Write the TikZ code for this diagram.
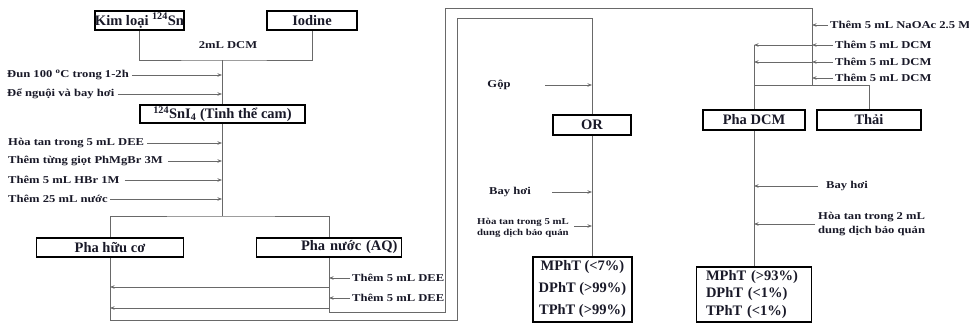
\documentclass[tikz,border=0pt]{standalone}
\usepackage{fontspec}
\setmainfont{Liberation Serif}
\newfontfamily\lblfont{Liberation Serif}[FakeStretch=1.2]
\usetikzlibrary{arrows.meta}
\definecolor{ink}{RGB}{25,25,40}
\definecolor{wirec}{RGB}{105,105,105}
\begin{document}
\begin{tikzpicture}[x=1pt,y=-1pt,
  box/.style={draw=black,line width=1.7pt,inner sep=0pt,text=ink,
    font=\fontsize{14.5}{16}\selectfont\bfseries},
  lbl/.style={inner sep=0pt,text=ink,font=\lblfont\fontsize{10.5}{14}\selectfont\bfseries},
  slbl/.style={inner sep=0pt,text=ink,font=\lblfont\fontsize{9}{11.5}\selectfont\bfseries},
  wire/.style={draw=wirec,line width=0.9pt},
  arr/.style={wire,-{Stealth[length=4.5pt,width=3.5pt]}}]
\useasboundingbox (0,0) rectangle (969,324);

% ---------- boxes ----------
\node[box,minimum width=87pt,minimum height=19pt] (sn) at (139.5,20.5) {Kim loại \textsuperscript{124}Sn};
\node[box,minimum width=90pt,minimum height=19pt] (iod) at (312,20.5) {Iodine};
\node[box,minimum width=165pt,minimum height=18pt] (sni4) at (222.5,114) {\textsuperscript{124}SnI\textsubscript{4} (Tinh thể cam)};
\node[box,minimum width=147pt,minimum height=19pt] (org) at (110,247.5) {Pha hữu cơ};
\node[box,minimum width=145pt,minimum height=19pt,text width=137pt,align=right] (aq) at (329,247.5) {Pha nước (AQ)};
\node[box,minimum width=78pt,minimum height=20pt] (or) at (592,125) {OR};
\node[box,minimum width=102pt,minimum height=20pt] (dcm) at (754,120) {Pha DCM};
\node[box,minimum width=104pt,minimum height=20pt] (thai) at (869,120) {Thải};
\node[box,minimum width=99pt,minimum height=65pt,align=center,
  font=\fontsize{14.5}{22}\selectfont\bfseries] (resL) at (582.5,289.5)
  {MPhT (<7\%)\\DPhT (>99\%)\\TPhT (>99\%)};
\node[box,minimum width=115pt,minimum height=55pt,text width=96pt,align=left,
  font=\fontsize{14.5}{17.5}\selectfont\bfseries] (resR) at (754,294.5)
  {MPhT (>93\%)\\DPhT (<1\%)\\TPhT (<1\%)};

% ---------- coordinates ----------
\coordinate (j1) at (222,60);
\coordinate (j2) at (222,216);
\coordinate (a1) at (329,312);
\coordinate (a2) at (445,312);
\coordinate (a3) at (445,8);
\coordinate (a4) at (812,8);
\coordinate (j3) at (812,85);
\coordinate (o1) at (110,320);
\coordinate (o2) at (457,320);
\coordinate (o3) at (457,18);
\coordinate (o4) at (592,18);
\coordinate (d0) at (754,45);

% ---------- top part ----------
\draw[wire] (sn.south) |- (j1) -| (iod.south);
\node[lbl] (dcm2) at (228,45) {2mL DCM};
\draw[wire] (j1) -- (j1 |- sni4.north);

\node[lbl,anchor=west] (l1) at (7,75) {Đun 100 \textsuperscript{o}C trong 1-2h};
\node[lbl,anchor=west] (l2) at (7,94) {Để nguội và bay hơi};
\draw[arr] ([xshift=3pt]l1.east) -- (l1.east -| j1);
\draw[arr] ([xshift=3pt]l2.east) -- (l2.east -| j1);

\draw[wire] (sni4.south -| j2) -- (j2);
\node[lbl,anchor=west] (l3) at (8,143) {Hòa tan trong 5 mL DEE};
\node[lbl,anchor=west] (l4) at (8,161) {Thêm từng giọt PhMgBr 3M};
\node[lbl,anchor=west] (l5) at (8,180) {Thêm 5 mL HBr 1M};
\node[lbl,anchor=west] (l6) at (8,199) {Thêm 25 mL nước};
\draw[arr] ([xshift=3pt]l3.east) -- (l3.east -| j2);
\draw[arr] ([xshift=5pt]l4.east) -- (l4.east -| j2);
\draw[arr] ([xshift=5pt]l5.east) -- (l5.east -| j2);
\draw[arr] ([xshift=2pt]l6.east) -- (l6.east -| j2);

\draw[wire] (org.north) |- (j2) -| (aq.north);

% ---------- extraction loop ----------
\draw[wire] (aq.south) -- (a1) -- (a2) -- (a3) -- (a4) -- (j3);
\draw[wire] (org.south) -- (o1) -- (o2) -- (o3) -- (o4) -- (or.north);

\node[lbl,anchor=west] (q1) at (352,278) {Thêm 5 mL DEE};
\node[lbl,anchor=west] (q2) at (352,298) {Thêm 5 mL DEE};
\draw[arr] ([xshift=-2pt]q1.west) -- (q1.west -| a1);
\draw[arr] ([xshift=-2pt]q2.west) -- (q2.west -| a1);
\coordinate (e1) at (329,287);
\coordinate (e2) at (329,308);
\draw[arr] (e1) -- (e1 -| o1);
\draw[arr] (e2) -- (e2 -| o1);

% ---------- OR column ----------
\node[lbl] (g) at (499,85) {Gộp};
\coordinate (gs) at (545,85);
\draw[arr] (gs) -- (gs -| o4);
\draw[wire] (or.south) -- (or.south |- resL.north);
\node[lbl] (b1) at (510,192) {Bay hơi};
\coordinate (bs) at (552,192);
\draw[arr] (bs) -- (bs -| o4);
\node[slbl,anchor=west,align=left] (h1) at (477,228) {Hòa tan trong 5 mL\\dung dịch bảo quản};
\coordinate (hs) at (574,226);
\draw[arr] (hs) -- (hs -| o4);

% ---------- DCM column ----------
\node[lbl,anchor=west] (r1) at (830,25) {Thêm 5 mL NaOAc 2.5 M};
\node[lbl,anchor=west] (r2) at (835,45) {Thêm 5 mL DCM};
\node[lbl,anchor=west] (r3) at (835,62) {Thêm 5 mL DCM};
\node[lbl,anchor=west] (r4) at (835,78) {Thêm 5 mL DCM};
\draw[arr] ([xshift=-2pt]r1.west) -- (r1.west -| a4);
\draw[arr] ([xshift=-2pt]r2.west) -- (r2.west -| a4);
\draw[arr] ([xshift=-2pt]r3.west) -- (r3.west -| a4);
\draw[arr] ([xshift=-2pt]r4.west) -- (r4.west -| a4);
\draw[arr] (r2.west -| a4) -- (r2.west -| d0);
\draw[arr] (r3.west -| a4) -- (r3.west -| d0);
\draw[wire] (d0) -- (dcm.north);
\draw[wire] (dcm.north |- j3) -- (thai.north |- j3) -- (thai.north);

\draw[wire] (dcm.south) -- (resR.north);
\node[lbl] (b2) at (847,186) {Bay hơi};
\coordinate (bs2) at (818,186);
\draw[arr] (bs2) -- (bs2 -| d0);
\node[lbl,anchor=west,align=left] (h2) at (818,224) {Hòa tan trong 2 mL\\dung dịch bảo quản};
\draw[arr] ([xshift=-3pt]h2.west) -- (h2.west -| d0);
\end{tikzpicture}
\end{document}
